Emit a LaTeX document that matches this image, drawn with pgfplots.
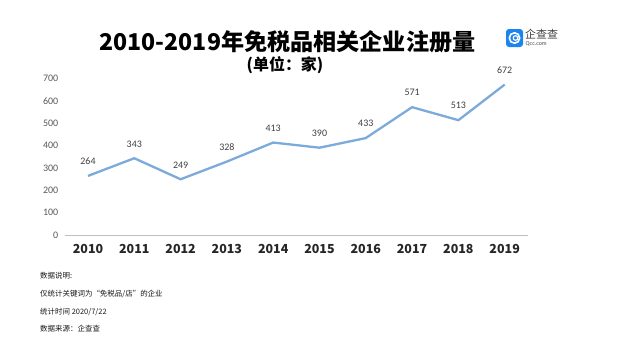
\documentclass[border=0pt]{standalone}
\usepackage{pgfplots}
\pgfplotsset{compat=1.18}
\usepackage{fontspec}
\setmainfont{Carlito}
\newfontfamily\cjk{Noto Sans CJK SC}
\definecolor{linec}{RGB}{124,171,219}
\definecolor{tickc}{RGB}{89,89,89}
\definecolor{logob}{RGB}{28,132,238}
\begin{document}
\begin{tikzpicture}[x=1bp,y=1bp]
\useasboundingbox (0,0) rectangle (624,343);
\fill[white] (0,0) rectangle (624,343);
\begin{axis}[
  at={(64.85bp,108bp)}, anchor=south west,
  scale only axis, width=463bp, height=156.7bp,
  xmin=2009.5, xmax=2019.5, ymin=0, ymax=700,
  xtick={2010,...,2019}, ytick={0,100,...,700},
  /pgf/number format/assume math mode=true,
  /pgf/number format/1000 sep={},
  axis x line*=bottom, axis y line*=left,
  y axis line style={draw=none},
  x axis line style={draw=black!25, line width=1bp, -},
  major tick length=0pt,
  yticklabel style={font=\fontsize{10}{10}\selectfont, color=tickc, inner sep=0pt, xshift=-6.5bp},
  xticklabel style={font=\cjk\bfseries\fontsize{12.5}{12.5}\selectfont, color=black!85, inner sep=0pt, yshift=-9bp},
  nodes near coords,
  nodes near coords style={font=\fontsize{10}{10}\selectfont, color=black!75, inner sep=0pt, yshift=10bp},
  clip=false,
]
\addplot[color=linec, line width=2.3bp, mark=none] coordinates {
(2010,264) (2011,343) (2012,249) (2013,328) (2014,413) (2015,390) (2016,433) (2017,571) (2018,513) (2019,672)
};
\end{axis}
% title
\node[font=\cjk\bfseries\fontsize{23.2}{23.2}\selectfont] at (287.5,343-41.5) {2010-2019年免税品相关企业注册量};
\node[font=\cjk\bfseries\fontsize{16}{16}\selectfont] at (285,343-65) {(单位：家)};
% logo
\fill[logob, rounded corners=3bp] (506,343-47) rectangle (523,343-29);
\draw[white, line width=1.6bp] (514.5,343-38) circle (5.2bp);
\draw[white, line width=1.2bp] (515.5,343-38) circle (2.3bp);
\node[font=\cjk\fontsize{11}{11}\selectfont, color=black!75, anchor=west, inner sep=0pt] at (525,343-34.5) {企查查};
\node[font=\fontsize{6}{6}\selectfont, color=black!70, anchor=west, inner sep=0pt] at (525.5,343-44) {Qcc.com};
% notes
\begin{scope}[every node/.style={font=\cjk\fontsize{7.5}{7.5}\selectfont, anchor=west, inner sep=0pt, color=black!90}]
\node at (40,343-276) {数据说明:};
\node at (40,343-294) {仅统计关键词为“免税品/店”的企业};
\node at (40,343-312) {统计时间 2020/7/22};
\node at (40,343-329) {数据来源：企查查};
\end{scope}
\end{tikzpicture}
\end{document}
